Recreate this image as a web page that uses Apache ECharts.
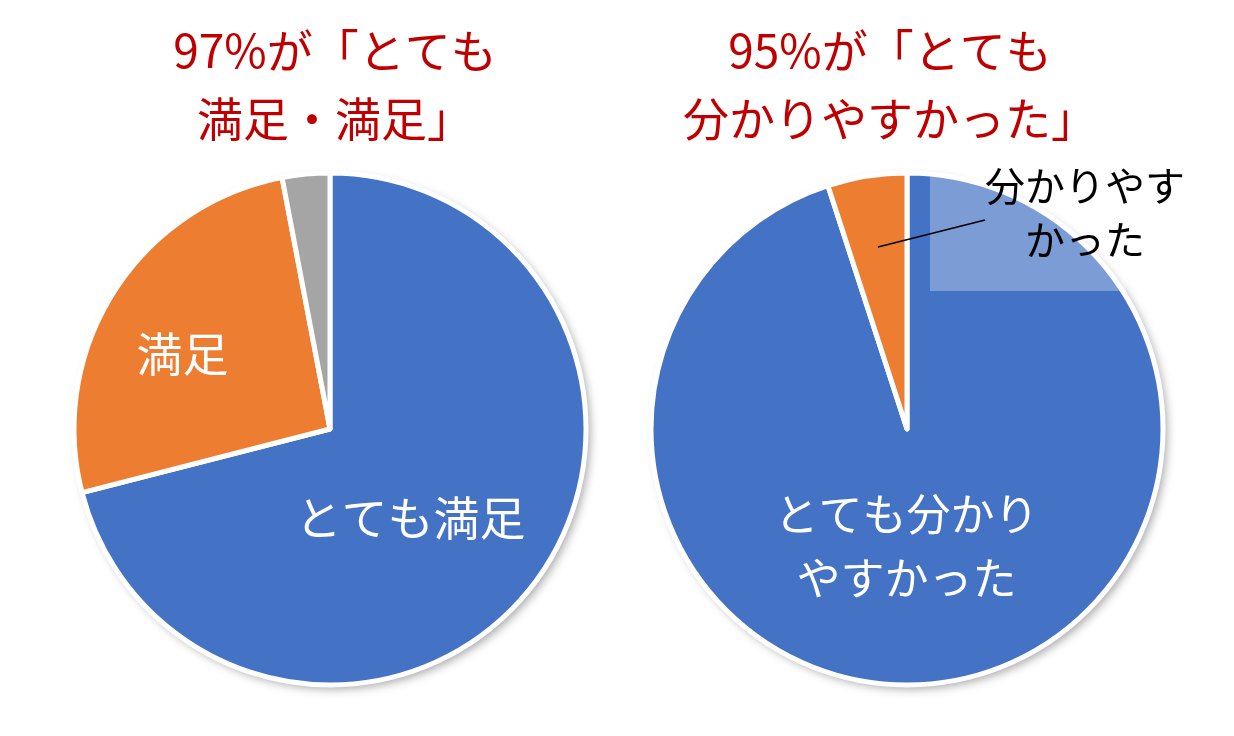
<!DOCTYPE html>
<html>
<head>
<meta charset="utf-8">
<script src="https://cdn.jsdelivr.net/npm/echarts@6/dist/echarts.min.js"></script>
<style>
html,body{margin:0;padding:0;background:#fff;}
#c{width:1234px;height:736px;}
</style>
</head>
<body>
<div id="c"></div>
<script>
// ---- data ----
const leftCategories = ['とても満足', '満足', 'その他'];
const leftValues = [71, 26, 3];
const leftLabels = ['とても満足', '満足', ''];
const rightCategories = ['とても分かりやすかった', '分かりやすかった'];
const rightValues = [95, 5];
const rightLabels = ['とても分かり\nやすかった', ''];
const calloutLabel = '分かりやす\nかった';
const leftTitle = '97%が「とても\n満足・満足」';
const rightTitle = '95%が「とても\n分かりやすかった」';
const colors = ['#4472c4', '#ed7d31', '#a5a5a5'];

const FONT = '"Noto Sans CJK JP", "Noto Sans", sans-serif';
const chart = echarts.init(document.getElementById('c'), null, {renderer: 'canvas'});

function buildData(cats, vals, labels) {
  return cats.map((n, i) => ({
    name: n, value: vals[i],
    itemStyle: {color: colors[i]},
    label: {show: labels[i] !== '', formatter: labels[i]}
  }));
}

const R = 256;
const leftAdj = [[-23, 8], [-37, -5], [0, 0]];
const rightAdj = [[-21, -12], [0, 0]];

chart.setOption({
  animation: false,
  title: [
    {text: leftTitle, left: 330, top: 12, textAlign: 'center',
     textStyle: {fontFamily: FONT, fontSize: 46, lineHeight: 68, color: '#c00000', fontWeight: 'normal', align: 'center'}},
    {text: rightTitle, left: 885, top: 12, textAlign: 'center',
     textStyle: {fontFamily: FONT, fontSize: 46, lineHeight: 68, color: '#c00000', fontWeight: 'normal', align: 'center'}}
  ],
  graphic: [
    {type: 'circle', z: 0, shape: {cx: 330, cy: 429, r: R}, style: {fill: '#fff', shadowBlur: 10, shadowColor: 'rgba(0,0,0,0.35)', shadowOffsetX: 4, shadowOffsetY: 4}},
    {type: 'circle', z: 0, shape: {cx: 907, cy: 429, r: R}, style: {fill: '#fff', shadowBlur: 10, shadowColor: 'rgba(0,0,0,0.35)', shadowOffsetX: 4, shadowOffsetY: 4}},
    {type: 'rect', z: 10, shape: {x: 930, y: 174, width: 196, height: 117}, style: {fill: 'rgba(255,255,255,0.3)'}},
    {type: 'line', z: 11, shape: {x1: 878, y1: 247, x2: 985, y2: 220}, style: {stroke: '#000', lineWidth: 1.5}},
    {type: 'text', z: 12, x: 1085, y: 213, style: {text: calloutLabel, fontFamily: FONT, fontSize: 40, lineHeight: 54, fill: '#000', textAlign: 'center', textVerticalAlign: 'middle'}}
  ],
  series: [
    {
      type: 'pie', center: [330, 429], radius: [0, R], startAngle: 90, clockwise: true,
      data: buildData(leftCategories, leftValues, leftLabels),
      itemStyle: {borderColor: '#fff', borderWidth: 5},
      label: {position: 'inside', color: '#fff', fontFamily: FONT, fontSize: 46, lineHeight: 64},
      labelLine: {show: false},
      labelLayout: function (p) { const a = leftAdj[p.dataIndex]; return {dx: a[0], dy: a[1]}; },
      emphasis: {disabled: true}
    },
    {
      type: 'pie', center: [907, 429], radius: [0, R], startAngle: 90, clockwise: true,
      data: buildData(rightCategories, rightValues, rightLabels),
      itemStyle: {borderColor: '#fff', borderWidth: 5},
      label: {position: 'inside', color: '#fff', fontFamily: FONT, fontSize: 44, lineHeight: 64},
      labelLine: {show: false},
      labelLayout: function (p) { const a = rightAdj[p.dataIndex]; return {dx: a[0], dy: a[1]}; },
      emphasis: {disabled: true}
    }
  ]
});
</script>
</body>
</html>
